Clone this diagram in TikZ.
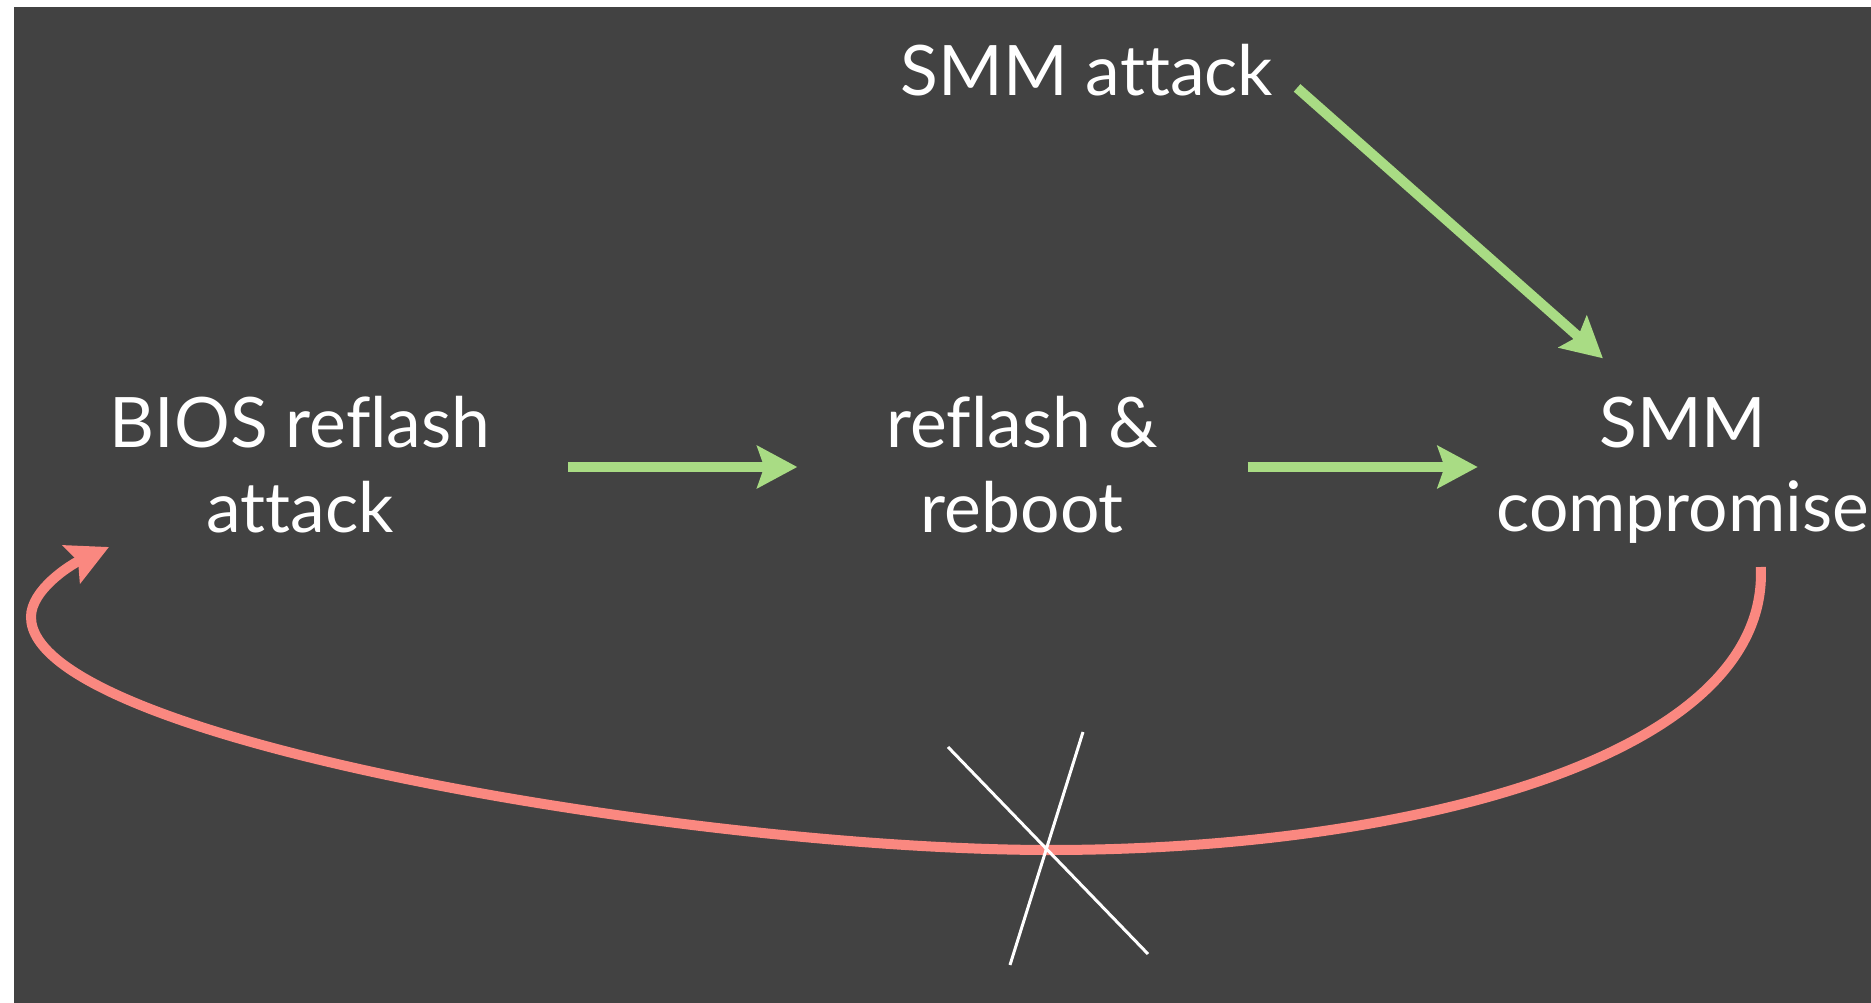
\documentclass[tikz,border=0pt]{standalone}
\usepackage{fontspec}
\setmainfont{Lato}[Ligatures=NoCommon]
\usetikzlibrary{arrows.meta}
\definecolor{slate}{HTML}{424242}
\definecolor{leaf}{HTML}{A9DC84}
\definecolor{salmon}{HTML}{FA8880}
\tikzset{
	stage/.style={text=white, align=center, inner sep=0pt, text depth=0.15em, font=\fontsize{19.8}{24}\selectfont},
	go/.style={draw=leaf, line width=0.1cm, -{Stealth[length=0.4cm, width=0.42cm, inset=0.07cm]}},
	nogo/.style={draw=salmon, line width=0.1cm, -{Stealth[length=0.41cm, width=0.41cm, inset=0.07cm]}},
	cross/.style={draw=white, line width=0.03cm}
}

\begin{document}
\begin{tikzpicture}[x=0.01cm, y=-0.01cm]
			\useasboundingbox (0,0) rectangle (1871,1003);
			\fill[slate] (14,7) rectangle (1871,1003);

			\node[stage] (bios) at (300,467) {BIOS reflash\\attack};
			\node[stage] (reboot) [right of=bios, node distance=7.22cm] {reflash \&\\reboot};
			\node[stage] (cmp) [right of=reboot, node distance=6.6cm] {SMM\\compromise};
			\node[stage] (smmatk) at (1087,72) {SMM attack};

			\path
			(bios.center) edge[go, shorten <=2.68cm, shorten >=2.25cm] (reboot.center)
			(reboot.center) edge[go, shorten <=2.25cm, shorten >=2.05cm] (cmp.center)
			([xshift=1.92cm]smmatk.center) edge[go, shorten <=0.24cm, shorten >=1.64cm] ([xshift=0.43cm]cmp.center);

			\draw[nogo] ([shift={(78,100)}]cmp.center) .. controls (1770,760) and (1400,850) .. (1050,850)
				.. controls (700,850) and (31,740) .. (31,617)
				.. controls (31,590) and (70,565) .. ([shift={(-191,80)}]bios.center);

			\draw[cross] (948,747) -- (1148,954);
			\draw[cross] (1083,732) -- (1010,965);
\end{tikzpicture}
\end{document}
